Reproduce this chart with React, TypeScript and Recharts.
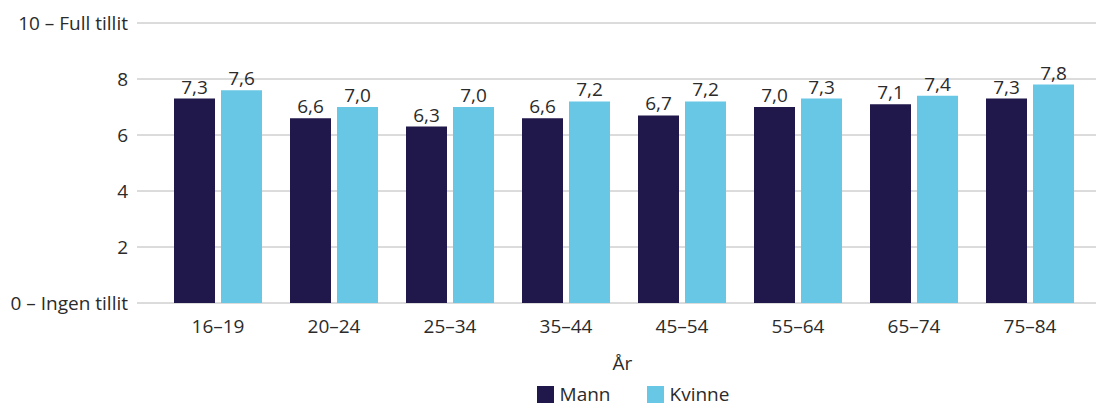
import { BarChart, Bar, XAxis, YAxis, CartesianGrid, Legend, LabelList } from "recharts";

const ageGroups = ["16–19", "20–24", "25–34", "35–44", "45–54", "55–64", "65–74", "75–84"];
const mann = [7.3, 6.6, 6.3, 6.6, 6.7, 7.0, 7.1, 7.3];
const kvinne = [7.6, 7.0, 7.0, 7.2, 7.2, 7.3, 7.4, 7.8];
const yTicks = [0, 2, 4, 6, 8, 10];
const yTickText: Record<number, string> = { 0: "0 – Ingen tillit", 10: "10 – Full tillit" };
const seriesNames = ["Mann", "Kvinne"];
const seriesColors = ["#20174a", "#69c7e6"];

const font = "'Open Sans', 'Noto Sans', sans-serif";
const textColor = "#2b2b2b";
const fs = 19;

// fixed order legend (recharts 3 sorts items by name otherwise)
function LegendBox() {
  return (
    <div
      style={{
        display: "flex",
        justifyContent: "center",
        alignItems: "center",
        paddingLeft: 170,
        paddingTop: 8,
        fontFamily: font,
        fontSize: fs,
        color: textColor,
      }}
    >
      {seriesNames.map((name, i) => (
        <div key={name} style={{ display: "flex", alignItems: "center", marginRight: i === 0 ? 36 : 0 }}>
          <span style={{ width: 17, height: 17, background: seriesColors[i], display: "inline-block", marginRight: 6 }} />
          <span>{name}</span>
        </div>
      ))}
    </div>
  );
}

export default function App() {
  const data = ageGroups.map((age, i) => ({ age, mann: mann[i], kvinne: kvinne[i] }));
  const fmt = (v: any) => Number(v).toFixed(1).replace(".", ",");
  return (
    <div style={{ position: "absolute", left: 0, top: 0, fontFamily: font }}>
      <BarChart
        width={1096}
        height={406}
        data={data}
        margin={{ top: 23, right: 0, bottom: 0, left: 0 }}
        barSize={41}
        barGap={6}
      >
        <CartesianGrid vertical={false} stroke="#b8b8b8" strokeWidth={1} />
        <XAxis
          dataKey="age"
          axisLine={false}
          tickLine={false}
          padding={{ left: 23, right: 8 }}
          height={70}
          tickMargin={11}
          tick={{ fill: textColor, fontSize: fs, fontFamily: font }}
          label={{ value: "År", position: "insideBottom", offset: 3, dx: 6, fill: textColor, fontSize: fs, fontFamily: font }}
        />
        <YAxis
          domain={[0, 10]}
          ticks={yTicks}
          width={137}
          axisLine={false}
          tickLine={false}
          tickSize={0}
          tickMargin={9}
          interval={0}
          tickFormatter={(v: number) => yTickText[v] ?? String(v)}
          tick={{ fill: textColor, fontSize: fs, fontFamily: font }}
        />
        <Legend verticalAlign="bottom" height={33} content={() => <LegendBox />} />
        <Bar dataKey="mann" name="Mann" fill={seriesColors[0]} isAnimationActive={false}>
          <LabelList dataKey="mann" position="top" offset={5} formatter={fmt} fill={textColor} fontSize={fs} fontFamily={font} />
        </Bar>
        <Bar dataKey="kvinne" name="Kvinne" fill={seriesColors[1]} isAnimationActive={false}>
          <LabelList dataKey="kvinne" position="top" offset={5} formatter={fmt} fill={textColor} fontSize={fs} fontFamily={font} />
        </Bar>
      </BarChart>
    </div>
  );
}
